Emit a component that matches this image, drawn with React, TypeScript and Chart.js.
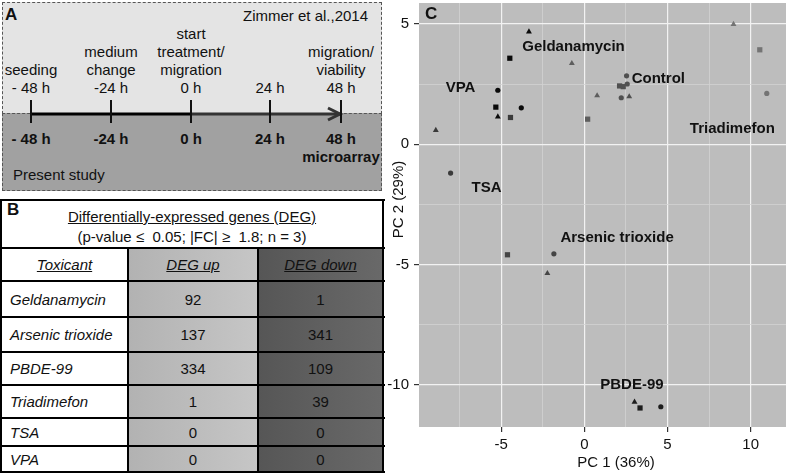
import React, { useEffect, useRef } from 'react';
import { Chart, registerables } from 'chart.js';
Chart.register(...registerables);

const FONT = '"Liberation Sans", Arial, Helvetica, sans-serif';

// ---------- Panel A data ----------
const timeLabels = ['- 48 h', '-24 h', '0 h', '24 h', '48 h'];
const topEvents = [['seeding'], ['medium', 'change'], ['start', 'treatment/', 'migration'], [], ['migration/', 'viability']];
const bottomExtras = ['', '', '', '', 'microarray'];
const topStudy = 'Zimmer et al.,2014';
const bottomStudy = 'Present study';

// ---------- Panel B data ----------
const tableTitle = 'Differentially-expressed genes (DEG)';
const tableSubtitle = '(p-value \u2264  0.05; |FC| \u2265  1.8; n = 3)';
const tableHeaders = ['Toxicant', 'DEG up', 'DEG down'];
const toxicants = ['Geldanamycin', 'Arsenic trioxide', 'PBDE-99', 'Triadimefon', 'TSA', 'VPA'];
const degUp = [92, 137, 334, 1, 0, 0];
const degDown = [1, 341, 109, 39, 0, 0];

// ---------- Panel C data ----------
const geldanamycinX = [-3.33, -4.48, -3.79];
const geldanamycinY = [4.67, 3.57, 1.51];
const geldanamycinShape = ['triangle', 'rect', 'circle'];

const vpaX = [-5.2, -5.32, -5.2];
const vpaY = [2.24, 1.54, 1.14];
const vpaShape = ['circle', 'rect', 'triangle'];

const tsaX = [-8.93, -8.04, -4.44];
const tsaY = [0.58, -1.2, 1.11];
const tsaShape = ['triangle', 'circle', 'rect'];

const middleX = [-0.75, 0.77, 0.2];
const middleY = [3.36, 2.02, 1.04];
const middleShape = ['triangle', 'triangle', 'rect'];

const controlX = [2.12, 2.34, 2.54, 2.58, 2.22, 2.7];
const controlY = [2.42, 2.39, 2.84, 2.5, 1.93, 1.98];
const controlShape = ['rect', 'rect', 'circle', 'circle', 'circle', 'triangle'];

const triadimefonX = [8.97, 10.55, 10.97];
const triadimefonY = [4.98, 3.92, 2.11];
const triadimefonShape = ['triangle', 'rect', 'circle'];

const arsenicX = [-4.62, -1.83, -2.22];
const arsenicY = [-4.59, -4.55, -5.36];
const arsenicShape = ['rect', 'circle', 'triangle'];

const pbdeX = [3.02, 3.35, 4.6];
const pbdeY = [-10.7, -10.95, -10.9];
const pbdeShape = ['triangle', 'rect', 'circle'];

const labelNames = ['Geldanamycin', 'VPA', 'Control', 'Triadimefon', 'TSA', 'Arsenic trioxide', 'PBDE-99'];
const labelX = [-0.65, -7.44, 4.45, 8.9, -5.88, 1.97, 2.86];
const labelY = [4.05, 2.33, 2.7, 0.65, -1.82, -3.88, -10.01];

const xTickValues = [-7.5, -5, -2.5, 0, 2.5, 5, 7.5, 10, 12.5];
const yTickValues = [-10, -7.5, -5, -2.5, 0, 2.5, 5];
const X_MIN = -9.94;
const X_MAX = 13.75;
const Y_MIN = -11.74;
const Y_MAX = 7.15;

const groups = [
  { name: 'Geldanamycin', xs: geldanamycinX, ys: geldanamycinY, shapes: geldanamycinShape, color: '#0a0a0a' },
  { name: 'VPA', xs: vpaX, ys: vpaY, shapes: vpaShape, color: '#0a0a0a' },
  { name: 'TSA', xs: tsaX, ys: tsaY, shapes: tsaShape, color: '#3a3a3a' },
  { name: 'Other', xs: middleX, ys: middleY, shapes: middleShape, color: '#5e5e5e' },
  { name: 'Control', xs: controlX, ys: controlY, shapes: controlShape, color: '#505050' },
  { name: 'Triadimefon', xs: triadimefonX, ys: triadimefonY, shapes: triadimefonShape, color: '#747474' },
  { name: 'Arsenic trioxide', xs: arsenicX, ys: arsenicY, shapes: arsenicShape, color: '#454545' },
  { name: 'PBDE-99', xs: pbdeX, ys: pbdeY, shapes: pbdeShape, color: '#1c1c1c' },
];

const radiusFor = (s: string) => (s === 'rect' ? 3.7 : s === 'triangle' ? 3.4 : 2.6);

function PanelA() {
  const tickXs = [31, 111, 191, 270, 341];
  return (
    <div>
      <div style={{ position: 'absolute', left: 2, top: 2, width: 378, height: 110, background: '#e4e4e4', border: '1px dashed #555' }} />
      <div style={{ position: 'absolute', left: 2, top: 113, width: 378, height: 76, background: '#a1a1a1', border: '1px dashed #555' }} />
      <div style={{ position: 'absolute', left: 5, top: 6, fontWeight: 'bold', fontSize: 17, lineHeight: '17px' }}>A</div>
      <div style={{ position: 'absolute', left: 243, top: 7, fontSize: 15, lineHeight: '18px', whiteSpace: 'nowrap' }}>{topStudy}</div>
      {timeLabels.map((t, i) => {
        const lines = [...topEvents[i], t];
        const top = 88 - 9 - 18 * (lines.length - 1);
        return (
          <div key={'t' + i} style={{ position: 'absolute', left: tickXs[i] - 60, width: 120, top, textAlign: 'center', fontSize: 15, lineHeight: '18px' }}>
            {lines.map((l, j) => <div key={j}>{l}</div>)}
          </div>
        );
      })}
      {timeLabels.map((t, i) => {
        const lines = [t, bottomExtras[i]].filter(Boolean);
        return (
          <div key={'b' + i} style={{ position: 'absolute', left: tickXs[i] - 60, width: 120, top: 130, textAlign: 'center', fontSize: 15, lineHeight: '18px', fontWeight: 'bold' }}>
            {lines.map((l, j) => <div key={j}>{l}</div>)}
          </div>
        );
      })}
      <div style={{ position: 'absolute', left: 13, top: 166, fontSize: 15, lineHeight: '18px' }}>{bottomStudy}</div>
      <svg width={390} height={200} style={{ position: 'absolute', left: 0, top: 0 }}>
        <line x1={tickXs[0]} y1={114} x2={tickXs[2]} y2={114} stroke="#000" strokeWidth={3} />
        <line x1={tickXs[2]} y1={114} x2={tickXs[4] - 1} y2={114} stroke="#333" strokeWidth={3} />
        <polyline points={`${tickXs[4] - 13},108 ${tickXs[4] - 1},114 ${tickXs[4] - 13},120`} fill="none" stroke="#333" strokeWidth={3} />
        {tickXs.map((x, i) => (
          <line key={i} x1={x} y1={100} x2={x} y2={123} stroke="#111" strokeWidth={2} />
        ))}
      </svg>
    </div>
  );
}

function PanelB() {
  const rows = [248, 281, 317, 352, 385, 418, 446, 472];
  const cols = [1, 128, 258, 383];
  const bgs = ['#ffffff', 'linear-gradient(to right, #b2b2b2, #c6c6c6)', 'linear-gradient(to right, #565656, #696969)'];
  const cells: any[] = [];
  for (let r = 0; r < rows.length - 1; r++) {
    for (let c = 0; c < 3; c++) {
      const header = r === 0;
      let text: any;
      if (header) text = tableHeaders[c];
      else if (c === 0) text = toxicants[r - 1];
      else if (c === 1) text = degUp[r - 1];
      else text = degDown[r - 1];
      cells.push(
        <div key={r + '-' + c} style={{
          position: 'absolute', left: cols[c], top: rows[r], width: cols[c + 1] - cols[c], height: rows[r + 1] - rows[r],
          background: bgs[c], display: 'flex', alignItems: 'center',
          justifyContent: header || c > 0 ? 'center' : 'flex-start',
          paddingLeft: !header && c === 0 ? 9 : 0, boxSizing: 'border-box',
          fontSize: 15, fontStyle: header || c === 0 ? 'italic' : 'normal',
          textDecoration: header ? 'underline' : 'none', color: '#111', whiteSpace: 'nowrap',
        }}>{text}</div>
      );
    }
  }
  const lines: any[] = [];
  [200, ...rows].forEach((y, i) => lines.push(
    <div key={'h' + i} style={{ position: 'absolute', left: 0, top: y - 1, width: 385, height: 2, background: '#000' }} />
  ));
  cols.forEach((x, i) => lines.push(
    <div key={'v' + i} style={{ position: 'absolute', left: x - 1, top: i === 0 || i === 3 ? 199 : 247, width: 2, height: i === 0 || i === 3 ? 275 : 227, background: '#000' }} />
  ));
  return (
    <div>
      <div style={{ position: 'absolute', left: 1, top: 200, width: 382, height: 48, background: '#fff' }} />
      <div style={{ position: 'absolute', left: 7, top: 201, fontWeight: 'bold', fontSize: 17, lineHeight: '17px' }}>B</div>
      <div style={{ position: 'absolute', left: 1, width: 382, top: 207, textAlign: 'center', fontSize: 15, lineHeight: '19px', textDecoration: 'underline' }}>{tableTitle}</div>
      <div style={{ position: 'absolute', left: 1, width: 382, top: 227, textAlign: 'center', fontSize: 15, lineHeight: '19px', whiteSpace: 'pre' }}>{tableSubtitle}</div>
      {cells}
      {lines}
    </div>
  );
}

export default function App() {
  const canvasRef = useRef<HTMLCanvasElement>(null);
  useEffect(() => {
    const canvas = canvasRef.current;
    if (!canvas) return;
    const datasets = groups.map((g) => ({
      label: g.name,
      data: g.xs.map((x, i) => ({ x, y: g.ys[i] })),
      pointStyle: g.shapes,
      pointRadius: g.shapes.map(radiusFor),
      pointBackgroundColor: g.color,
      pointBorderColor: g.color,
      pointBorderWidth: 0,
      showLine: false,
    }));
    const bgPlugin = {
      id: 'panelBg',
      beforeDraw(chart: any) {
        const { ctx, chartArea: a } = chart;
        ctx.save();
        ctx.fillStyle = '#bdbdbd';
        ctx.fillRect(a.left, a.top, a.right - a.left, a.bottom - a.top);
        ctx.restore();
      },
    };
    const labelPlugin = {
      id: 'groupLabels',
      afterDatasetsDraw(chart: any) {
        const { ctx, scales } = chart;
        ctx.save();
        ctx.font = `bold 15px ${FONT}`;
        ctx.fillStyle = '#111';
        ctx.textAlign = 'center';
        ctx.textBaseline = 'middle';
        labelNames.forEach((n, i) => {
          ctx.fillText(n, scales.x.getPixelForValue(labelX[i]), scales.y.getPixelForValue(labelY[i]));
        });
        ctx.restore();
      },
    };
    const isMajor = (v: number) => Math.abs(v % 5) < 1e-9;
    const gridOpts = {
      color: (c: any) => (c.tick && isMajor(c.tick.value) ? '#f2f2f2' : '#d2d2d2'),
      lineWidth: (c: any) => (c.tick && isMajor(c.tick.value) ? 1.2 : 0.8),
      tickColor: (c: any) => (c.tick && isMajor(c.tick.value) ? '#333' : 'rgba(0,0,0,0)'),
      tickLength: 5,
      tickWidth: 1.2,
      drawTicks: true,
    };
    const zeroPad = (s: any) => { s.paddingTop = 0; s.paddingBottom = 0; s.paddingLeft = 0; s.paddingRight = 0; };
    const chart = new Chart(canvas, {
      type: 'scatter',
      data: { datasets: datasets as any },
      options: {
        animation: false,
        responsive: false,
        maintainAspectRatio: false,
        layout: { padding: 0 },
        plugins: { legend: { display: false }, tooltip: { enabled: false } },
        scales: {
          x: {
            type: 'linear', min: X_MIN, max: X_MAX, bounds: 'data',
            afterBuildTicks: (s: any) => { s.ticks = xTickValues.map((v) => ({ value: v })); },
            afterFit: (s: any) => { s.height = 46; zeroPad(s); },
            ticks: {
              autoSkip: false, maxRotation: 0, minRotation: 0, padding: 4, color: '#111',
              font: { size: 15, family: FONT },
              callback: (v: any) => (isMajor(Number(v)) ? String(v) : ''),
            },
            grid: gridOpts as any,
            border: { display: false },
            title: { display: true, text: 'PC 1 (36%)', color: '#111', font: { size: 15, family: FONT }, padding: { top: 0, bottom: 1 } },
          },
          y: {
            type: 'linear', min: Y_MIN, max: Y_MAX, bounds: 'data',
            afterBuildTicks: (s: any) => { s.ticks = yTickValues.map((v) => ({ value: v })); },
            afterFit: (s: any) => { s.width = 39; zeroPad(s); },
            ticks: {
              autoSkip: false, padding: 5, color: '#111',
              font: { size: 15, family: FONT },
              callback: (v: any) => (isMajor(Number(v)) ? String(v) : ''),
            },
            grid: gridOpts as any,
            border: { display: false },
            title: { display: true, text: 'PC 2 (29%)', color: '#111', font: { size: 15, family: FONT }, padding: { top: 10, bottom: 0 } },
          },
        },
      } as any,
      plugins: [bgPlugin, labelPlugin],
    });
    return () => chart.destroy();
  }, []);

  return (
    <div style={{ position: 'absolute', left: 0, top: 0, width: 786, height: 473, background: '#fff', fontFamily: FONT, color: '#111', overflow: 'hidden' }}>
      <PanelA />
      <PanelB />
      <div style={{ position: 'absolute', left: 380, top: 3, width: 406, height: 470, overflow: 'hidden' }}>
        <canvas ref={canvasRef} width={437} height={505} style={{ position: 'absolute', left: 0, top: -35, width: 437, height: 505 }} />
      </div>
      <div style={{ position: 'absolute', left: 425, top: 5, fontWeight: 'bold', fontSize: 17, lineHeight: '17px' }}>C</div>
    </div>
  );
}
